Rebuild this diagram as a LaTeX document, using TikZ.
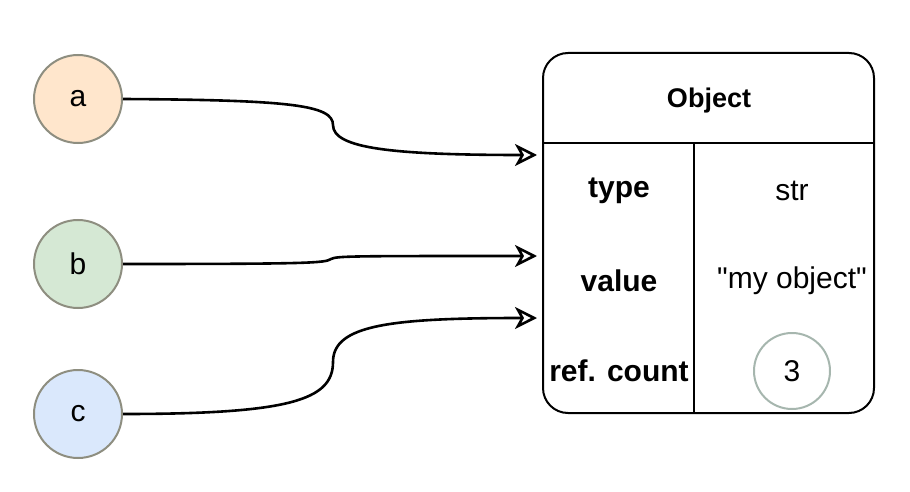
\documentclass[tikz,border=0pt]{standalone}
\usepackage{fontspec}
\setmainfont{Liberation Sans}[Ligatures=TeXOff]
\usetikzlibrary{arrows.meta}
\definecolor{refa}{HTML}{FFE6CC}
\definecolor{refb}{HTML}{D5E8D4}
\definecolor{refc}{HTML}{DAE8FC}
\definecolor{refrim}{HTML}{8E8E80}
\definecolor{cntrim}{HTML}{A6B6AE}
\tikzset{
  var/.style={circle,draw=refrim,line width=2pt,minimum size=88pt,inner sep=0pt,font=\fontsize{30}{35}\selectfont},
  cell/.style={font=\fontsize{30}{35}\selectfont},
  head/.style={font=\fontsize{30}{35}\selectfont\bfseries},
  ref/.style={line width=2.6pt,-{Stealth[open,length=22pt,width=22pt,inset=6pt]}}
}
\begin{document}
\begin{tikzpicture}[x=1pt,y=-1pt]
\useasboundingbox (0,0) rectangle (910,492);
% variables
\node[var,fill=refa](a) at (78,99) {a};
\node[var,fill=refb](b) at (78,264) {b};
\node[var,fill=refc](c) at (78,414) {c};
% the object
\draw[line width=2pt,rounded corners=25pt](543,53) rectangle (874,413);
\draw[line width=2pt](543,143)--(874,143);
\draw[line width=2pt](694,143)--(694,413);
\node[head,font=\fontsize{27}{31}\selectfont\bfseries](obj) at (709,101) {Object};
\node[head](type) at (619,191) {type};
\node[cell](str) at (792,191) {str};
\node[head](value) at (619,281) {value};
\node[cell](val) at (792,281) {"my object"};
\node[head](cnt) at (619,371) {ref. count};
\node[cell,circle,draw=cntrim,line width=2pt,minimum size=76pt,inner sep=0pt](three) at (792,371) {3};
% references
\coordinate (ta) at (537,155);
\coordinate (tb) at (537,256);
\coordinate (tc) at (537,318);
\draw[ref](a.east) .. controls (290,100) and (333,105) .. (333,125) .. controls (333,148) and (390,155) .. (ta);
\draw[ref](b.east) .. controls (310,264) and (325,263) .. (331,259) .. controls (337,256) and (350,256) .. (tb);
\draw[ref](c.east) .. controls (290,414) and (333,400) .. (333,362) .. controls (333,325) and (390,318) .. (tc);
\end{tikzpicture}
\end{document}
